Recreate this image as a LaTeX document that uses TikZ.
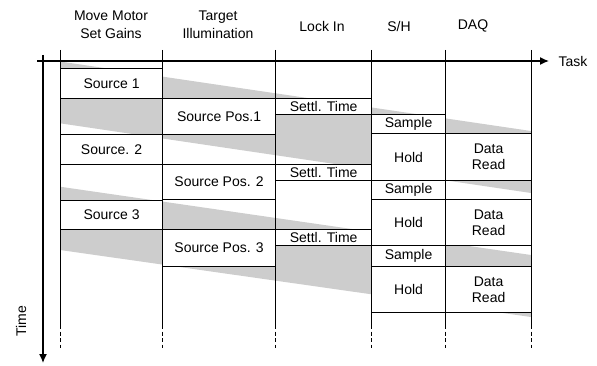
\documentclass[tikz,border=0pt]{standalone}
\usepackage{fontspec}
\setmainfont{Liberation Sans}
\usetikzlibrary{arrows.meta}
\definecolor{bandgray}{RGB}{205,205,205}
\begin{document}
\begin{tikzpicture}[x=1pt,y=-1pt,
  every node/.style={font=\fontsize{14}{16}\selectfont},
  box/.style={draw=black, line width=1.2pt, fill=white, anchor=north west, inner sep=0pt, align=center},
  band/.style={fill=bandgray, draw=none},
  colline/.style={line width=0.9pt},
  colend/.style={line width=0.9pt, dash pattern=on 4pt off 2.5pt},
  axis/.style={line width=1.4pt, -{Latex[length=9pt,width=8pt]}},
  hdr/.style={align=center, font=\fontsize{14}{18}\selectfont}]
\useasboundingbox (0,0) rectangle (597,366);

% delay bands
\fill[band] (60,61.5) -- (531,131) -- (531,193) -- (60,123.3) -- cycle;
\fill[band] (60,186.7) -- (531,255) -- (531,317) -- (60,250) -- cycle;

% column lines
\foreach \cx in {60,162,275,371,445,531}{
  \coordinate (ct\cx) at (\cx,50);
  \coordinate (cm\cx) at (\cx,325);
  \coordinate (cb\cx) at (\cx,348);
  \draw[colline] (ct\cx) -- (cm\cx);
  \draw[colend] (cm\cx) -- (cb\cx);
}

% axes
\coordinate (xo) at (37,61);
\coordinate (xe) at (549,61);
\coordinate (yo) at (43,55);
\coordinate (ye) at (43,363);
\draw[axis] (xo) -- (xe);
\draw[axis] (yo) -- (ye);
\node (task) at (573,61) {Task};
\node[rotate=90] (time) at (21,321) {Time};

% headers
\node[hdr] (h1) at (111,25) {Move Motor\\Set Gains};
\node[hdr] (h2) at (218,25) {Target\\Illumination};
\node (h3) at (322,26) {Lock In};
\node (h4) at (399,26) {S/H};
\node (h5) at (473,26) {DAQ};

% column 1
\node[box, minimum width=102pt, minimum height=30pt] (s1) at (60,68) {Source 1};
\node[box, minimum width=102pt, minimum height=30pt] (s2) at (60,134) {Source. 2};
\node[box, minimum width=102pt, minimum height=29pt] (s3) at (60,200) {Source 3};
% column 2
\node[box, minimum width=113pt, minimum height=36pt] (p1) at (162,98) {Source Pos.1};
\node[box, minimum width=113pt, minimum height=35pt] (p2) at (162,164) {Source Pos. 2};
\node[box, minimum width=113pt, minimum height=37pt] (p3) at (162,229) {Source Pos. 3};
% column 3
\node[box, minimum width=96pt, minimum height=16pt] (t1) at (275,98) {Settl. Time};
\node[box, minimum width=96pt, minimum height=16pt] (t2) at (275,164) {Settl. Time};
\node[box, minimum width=96pt, minimum height=16pt] (t3) at (275,229) {Settl. Time};
% column 4
\node[box, minimum width=74pt, minimum height=19pt] (sa1) at (371,114) {Sample};
\node[box, minimum width=74pt, minimum height=47pt] (ho1) at (371,133) {Hold};
\node[box, minimum width=74pt, minimum height=19pt] (sa2) at (371,180) {Sample};
\node[box, minimum width=74pt, minimum height=46pt] (ho2) at (371,199) {Hold};
\node[box, minimum width=74pt, minimum height=21pt] (sa3) at (371,245) {Sample};
\node[box, minimum width=74pt, minimum height=46pt] (ho3) at (371,266) {Hold};
% column 5
\node[box, minimum width=86pt, minimum height=47pt] (d1) at (445,133) {Data\\Read};
\node[box, minimum width=86pt, minimum height=46pt] (d2) at (445,199) {Data\\Read};
\node[box, minimum width=86pt, minimum height=46pt] (d3) at (445,266) {Data\\Read};
\end{tikzpicture}
\end{document}
